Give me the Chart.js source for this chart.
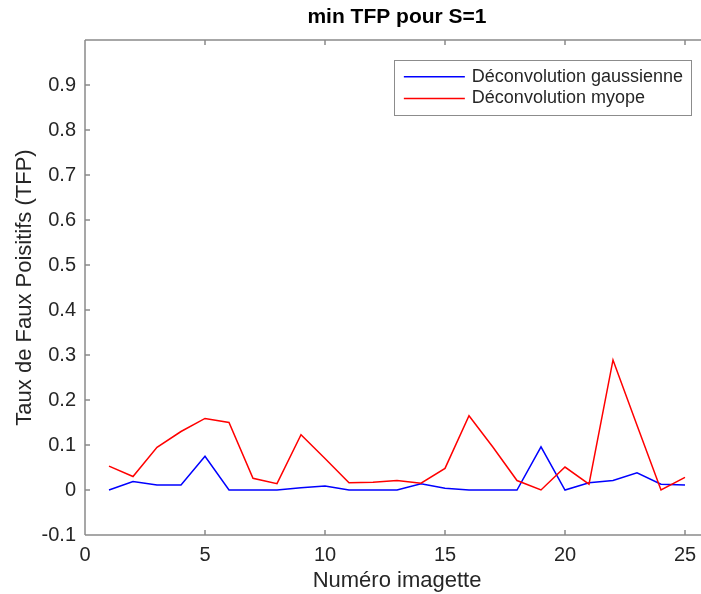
<!DOCTYPE html>
<html><head><meta charset="utf-8">
<script src="https://cdn.jsdelivr.net/npm/chart.js@4/dist/chart.umd.min.js"></script>
<style>html,body{margin:0;padding:0;overflow:hidden;background:#fff;width:701px;height:594px}canvas{display:block}</style>
</head><body>
<canvas id="c" width="710" height="594" style="width:710px;height:594px"></canvas>
<script>
const imagettes = [1,2,3,4,5,6,7,8,9,10,11,12,13,14,15,16,17,18,19,20,21,22,23,24,25];
const tfpGaussienne = [0,0.019,0.011,0.011,0.075,0,0,0,0.005,0.009,0,0,0,0.014,0.004,0,0,0,0.096,0,0.016,0.021,0.038,0.013,0.011];
const tfpMyope = [0.053,0.030,0.095,0.130,0.159,0.150,0.026,0.014,0.123,0.070,0.016,0.017,0.021,0.015,0.048,0.165,0.095,0.021,0,0.051,0.013,0.289,0.144,0,0.028];
const xTicks = [0,5,10,15,20,25];
const yTicks = [-0.1,0,0.1,0.2,0.3,0.4,0.5,0.6,0.7,0.8,0.9,1.0];
const seriesLabels = ['Déconvolution gaussienne','Déconvolution myope'];
const chartTitle = 'min TFP pour S=1';
const xLabel = 'Numéro imagette';
const yLabel = 'Taux de Faux Poisitifs (TFP)';

const FONT = '"Liberation Sans", Arial, Helvetica, sans-serif';
const TXT = '#262626';
const AXC = '#8a8a8a';

const axesPlugin = {
  id: 'matlabAxes',
  beforeDatasetsDraw(chart) {
    const {ctx, chartArea:{left,right,top,bottom}, scales:{x,y}} = chart;
    ctx.save();
    ctx.strokeStyle = AXC; ctx.lineWidth = 1.5;
    ctx.beginPath();
    ctx.moveTo(left, top); ctx.lineTo(right, top);
    ctx.moveTo(left, top); ctx.lineTo(left, bottom);
    ctx.moveTo(left, bottom); ctx.lineTo(right, bottom);
    ctx.moveTo(right, top); ctx.lineTo(right, bottom);
    const tl = 5;
    xTicks.forEach(v => {
      const px = x.getPixelForValue(v);
      ctx.moveTo(px, bottom); ctx.lineTo(px, bottom - tl);
      ctx.moveTo(px, top); ctx.lineTo(px, top + tl);
    });
    yTicks.forEach(v => {
      const py = y.getPixelForValue(v);
      ctx.moveTo(left, py); ctx.lineTo(left + tl, py);
      ctx.moveTo(right, py); ctx.lineTo(right - tl, py);
    });
    ctx.stroke();
    ctx.restore();
  }
};

const legendPlugin = {
  id: 'insetLegend',
  afterDatasetsDraw(chart) {
    const {ctx, chartArea} = chart;
    ctx.save();
    ctx.font = '18px ' + FONT;
    const ds = chart.data.datasets;
    const textW = Math.max(...ds.map(d => ctx.measureText(d.label).width));
    const padL = 10, lineLen = 61, gap = 7, padR = 8, rowH = 21.6, padT = 6;
    const w = padL + lineLen + gap + textW + padR;
    const h = padT * 2 + rowH * ds.length;
    const right = chartArea.right - 18, top = chartArea.top + 20;
    const left = right - w;
    ctx.fillStyle = '#fff'; ctx.fillRect(left, top, w, h);
    ctx.strokeStyle = '#8c8c8c'; ctx.lineWidth = 1;
    ctx.strokeRect(Math.round(left) + 0.5, Math.round(top) + 0.5, Math.round(w), Math.round(h));
    ds.forEach((d, i) => {
      const cy = top + padT + rowH * (i + 0.5);
      ctx.strokeStyle = d.borderColor; ctx.lineWidth = d.borderWidth;
      ctx.beginPath(); ctx.moveTo(left + padL, cy); ctx.lineTo(left + padL + lineLen, cy); ctx.stroke();
      ctx.fillStyle = TXT; ctx.textBaseline = 'middle'; ctx.textAlign = 'left';
      ctx.fillText(d.label, left + padL + lineLen + gap, cy);
    });
    ctx.restore();
  }
};

const fmt = v => {
  if (Math.abs(v - 1) < 1e-9) return '';
  const r = Math.round(v * 10) / 10;
  return String(r);
};

new Chart(document.getElementById('c'), {
  type: 'line',
  data: {
    datasets: [
      { label: seriesLabels[0], data: imagettes.map((xv, i) => ({x: xv, y: tfpGaussienne[i]})),
        borderColor: 'rgb(0,0,255)', borderWidth: 1.5, pointRadius: 0, tension: 0, fill: false, order: 1 },
      { label: seriesLabels[1], data: imagettes.map((xv, i) => ({x: xv, y: tfpMyope[i]})),
        borderColor: 'rgb(255,0,0)', borderWidth: 1.5, pointRadius: 0, tension: 0, fill: false, order: 0 }
    ]
  },
  options: {
    responsive: false,
    animation: false,
    devicePixelRatio: 1,
    layout: { padding: { left: 0, right: 1, top: 0, bottom: 0 } },
    plugins: { legend: { display: false }, title: { display: false }, tooltip: { enabled: false } },
    scales: {
      x: {
        type: 'linear', position: 'bottom', min: 0, max: 26,
        afterBuildTicks: s => { s.ticks = xTicks.map(v => ({value: v})); },
        afterFit: s => { s.height = 59; },
        grid: { display: false, drawTicks: false },
        border: { display: false },
        ticks: { font: { size: 20, family: FONT }, color: TXT, padding: 8, maxRotation: 0, autoSkip: false, callback: v => String(v) },
        title: { display: true, text: xLabel, font: { size: 22, family: FONT }, color: TXT, padding: { top: 0, bottom: 0 } }
      },
      x2: {
        type: 'linear', position: 'top', min: 0, max: 26,
        afterFit: s => { s.height = 40; },
        grid: { display: false, drawTicks: false },
        border: { display: false },
        ticks: { display: false },
        title: { display: true, text: chartTitle, font: { size: 21, family: FONT, weight: 'bold' }, color: '#000', padding: { top: 5, bottom: 0 } }
      },
      y: {
        type: 'linear', position: 'left', min: -0.1, max: 1.0,
        afterBuildTicks: s => { s.ticks = yTicks.map(v => ({value: v})); },
        afterFit: s => { s.width = 85; },
        grid: { display: false, drawTicks: false },
        border: { display: false },
        ticks: { font: { size: 20, family: FONT }, color: TXT, padding: 9, autoSkip: false, callback: fmt },
        title: { display: true, text: yLabel, font: { size: 22, family: FONT }, color: TXT, padding: { top: 12, bottom: 0 } }
      }
    }
  },
  plugins: [axesPlugin, legendPlugin]
});
</script>
</body></html>
